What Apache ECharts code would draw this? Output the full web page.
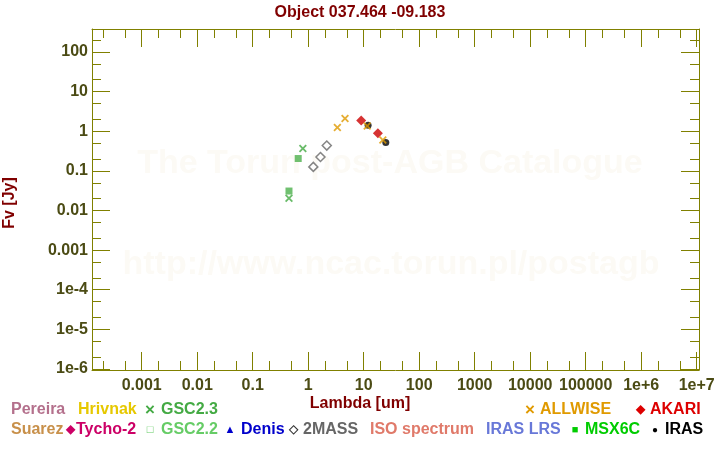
<!DOCTYPE html>
<html><head><meta charset="utf-8">
<script src="https://cdn.jsdelivr.net/npm/echarts@6/dist/echarts.min.js"></script>
<style>html,body{margin:0;padding:0;background:#fff}#c{width:720px;height:450px}</style>
</head><body><div id="c"></div>
<script>
const chartTitle = 'Object 037.464 -09.183';
const xName = 'Lambda [um]';
const yName = 'Fv [Jy]';
const watermark1 = 'The Torun post-AGB Catalogue';
const watermark2 = 'http://www.ncac.torun.pl/postagb';

const xTickValues = [0.001, 0.01, 0.1, 1, 10, 100, 1000, 10000, 100000, 1e6, 1e7];
const xTickLabels = ['0.001', '0.01', '0.1', '1', '10', '100', '1000', '10000', '100000', '1e+6', '1e+7'];
const yTickValues = [1e-6, 1e-5, 1e-4, 0.001, 0.01, 0.1, 1, 10, 100];
const yTickLabels = ['1e-6', '1e-5', '1e-4', '0.001', '0.01', '0.1', '1', '10', '100'];
const xDecades = [1e-4, 1e-3, 0.01, 0.1, 1, 10, 100, 1000, 1e4, 1e5, 1e6, 1e7];
const yDecades = [1e-6, 1e-5, 1e-4, 0.001, 0.01, 0.1, 1, 10, 100];
const minorMultipliers = [2, 5];
const xRange = [1.27e-4, 1.10e7];
const yRange = [9.43e-7, 381];

// photometry (lambda in um, flux in Jy)
const gsc23Lambda = [0.80, 0.45];
const gsc23Flux = [0.366, 0.0203];
const gsc22Lambda = [0.66, 0.45];
const gsc22Flux = [0.205, 0.031];
const twomassLambda = [1.235, 1.662, 2.159];
const twomassFlux = [0.126, 0.224, 0.435];
const irasLambda = [12, 25];
const irasFlux = [1.42, 0.52];
const akariLambda = [9, 18];
const akariFlux = [1.86, 0.89];
const allwiseLambda = [3.35, 4.6, 11.56, 22.1];
const allwiseFlux = [1.24, 2.09, 1.36, 0.60];

// legend
const legendRow1 = ['Pereira', 'Hrivnak', 'GSC2.3', 'ALLWISE', 'AKARI'];
const legendRow2 = ['Suarez', 'Tycho-2', 'GSC2.2', 'Denis', '2MASS', 'ISO spectrum', 'IRAS LRS', 'MSX6C', 'IRAS'];

const FONT = '"Liberation Sans", Arial, sans-serif';
const AXIS_COLOR = '#808000';
const LABEL_COLOR = '#4b4b14';
const CROSS = 'path://M0,1.6L1.6,0L5,3.4L8.4,0L10,1.6L6.6,5L10,8.4L8.4,10L5,6.6L1.6,10L0,8.4L3.4,5Z';

function zip(a, b) { return a.map((v, i) => [v, b[i]]); }
function minors(decades) {
  const out = [];
  decades.forEach(d => minorMultipliers.forEach(m => out.push(m * d)));
  return out;
}
function labelFor(values, labels) {
  return function (v) {
    let best = -1, bd = 1e9;
    values.forEach((t, i) => { const d = Math.abs(Math.log10(v) - Math.log10(t)); if (d < bd) { bd = d; best = i; } });
    return bd < 1e-6 ? labels[best] : '';
  };
}

function makeAxis(dim, pos, major, showLabel) {
  const range = dim === 'x' ? xRange : yRange;
  const ticks = major ? (dim === 'x' ? xTickValues : yTickValues) : minors(dim === 'x' ? xDecades : yDecades);
  return {
    type: 'log', position: pos, min: range[0], max: range[1],
    axisLine: { show: major, lineStyle: { color: AXIS_COLOR, width: 1 } },
    axisTick: { show: true, inside: true, length: major ? 18 : 9, customValues: ticks,
      lineStyle: { color: AXIS_COLOR, width: 1 } },
    axisLabel: showLabel ? {
      show: true, customValues: ticks, margin: dim === 'x' ? 8 : 4,
      color: LABEL_COLOR, fontSize: 16, fontWeight: 'bold', fontFamily: FONT,
      formatter: dim === 'x' ? labelFor(xTickValues, xTickLabels) : labelFor(yTickValues, yTickLabels)
    } : { show: false },
    splitLine: { show: false }, minorTick: { show: false }, minorSplitLine: { show: false }
  };
}

function txt(text, x, y, color, size, extra) {
  return Object.assign({
    type: 'text', x: x, y: y, silent: true,
    style: { text: text, x: 0, y: 0, fill: color, font: 'bold ' + size + 'px ' + FONT,
      align: 'left', textAlign: 'left', verticalAlign: 'middle', textVerticalAlign: 'middle' }
  }, extra || {});
}
function ctxt(text, x, y, color, size, extra) {
  const t = txt(text, x, y, color, size, extra);
  t.style.align = 'center'; t.style.textAlign = 'center';
  return t;
}

const legendRow1Layout = [
  { x: 11, color: '#b4708c' }, { x: 78, color: '#e6c800' }, { x: 161, color: '#44aa44', sym: '\u00d7', sx: 150, ss: 17 },
  { x: 540, color: '#e09a00', sym: '\u00d7', sx: 530, ss: 17 }, { x: 650, color: '#dd0000', sym: '\u25c6', sx: 640, ss: 12 }
];
const legendRow2Layout = [
  { x: 11, color: '#c8904a' }, { x: 76, color: '#cc0066', sym: '\u25c6', sx: 70, ss: 12 },
  { x: 161, color: '#66cc66', sym: '\u25a1', sx: 150, ss: 11 }, { x: 241, color: '#0000cc', sym: '\u25b2', sx: 230, ss: 11 },
  { x: 303, color: '#666666', sym: '\u25c7', sx: 293, ss: 12, symColor: '#333' }, { x: 370, color: '#e07a6a' },
  { x: 486, color: '#6878d8' }, { x: 585, color: '#00cc00', sym: '\u25a0', sx: 575, ss: 11 },
  { x: 665, color: '#000000', sym: '\u25cf', sx: 655, ss: 10 }
];

const graphics = [
  ctxt(watermark1, 390, 164, '#fcfaf5', 34, { z: -10 }),
  ctxt(watermark2, 391, 265, '#fcfaf5', 34, { z: -10 }),
  ctxt(xName, 360, 404, '#800000', 16),
  ctxt(yName, 10, 203, '#800000', 16, { rotation: Math.PI / 2 })
];
function addLegend(names, layout, y) {
  names.forEach((n, i) => {
    const L = layout[i];
    graphics.push(txt(n, L.x, y, L.color, 16));
    if (L.sym) graphics.push(ctxt(L.sym, L.sx, y, L.symColor || L.color, L.ss));
  });
}
addLegend(legendRow1, legendRow1Layout, 410);
addLegend(legendRow2, legendRow2Layout, 430);

const chart = echarts.init(document.getElementById('c'), null, { renderer: 'canvas' });
chart.setOption({
  animation: false,
  backgroundColor: '#ffffff',
  title: { text: chartTitle, left: 'center', top: 5, padding: 0,
    textStyle: { color: '#800000', fontSize: 16, fontWeight: 'bold', fontFamily: FONT } },
  grid: { left: 92, top: 29, right: 21, bottom: 80, containLabel: false },
  xAxis: [
    makeAxis('x', 'bottom', true, true), makeAxis('x', 'bottom', false, false),
    makeAxis('x', 'top', true, false), makeAxis('x', 'top', false, false)
  ],
  yAxis: [
    makeAxis('y', 'left', true, true), makeAxis('y', 'left', false, false),
    makeAxis('y', 'right', true, false), makeAxis('y', 'right', false, false)
  ],
  graphic: graphics,
  series: [
    { name: 'GSC2.2', type: 'scatter', data: zip(gsc22Lambda, gsc22Flux), symbol: 'rect', symbolSize: 7,
      itemStyle: { color: '#4cb04c' } },
    { name: 'GSC2.3', type: 'scatter', data: zip(gsc23Lambda, gsc23Flux), symbol: CROSS, symbolSize: 8,
      itemStyle: { color: '#44aa44' } },
    { name: '2MASS', type: 'scatter', data: zip(twomassLambda, twomassFlux), symbol: 'diamond', symbolSize: 9,
      itemStyle: { color: '#ffffff', borderColor: '#666666', borderWidth: 1.5 } },
    { name: 'IRAS', type: 'scatter', data: zip(irasLambda, irasFlux), symbol: 'circle', symbolSize: 7,
      itemStyle: { color: '#000000' } },
    { name: 'AKARI', type: 'scatter', data: zip(akariLambda, akariFlux), symbol: 'diamond', symbolSize: 10,
      itemStyle: { color: '#cc0000' } },
    { name: 'ALLWISE', type: 'scatter', data: zip(allwiseLambda, allwiseFlux), symbol: CROSS, symbolSize: 8,
      itemStyle: { color: '#e09a00' } }
  ]
});
</script></body></html>
